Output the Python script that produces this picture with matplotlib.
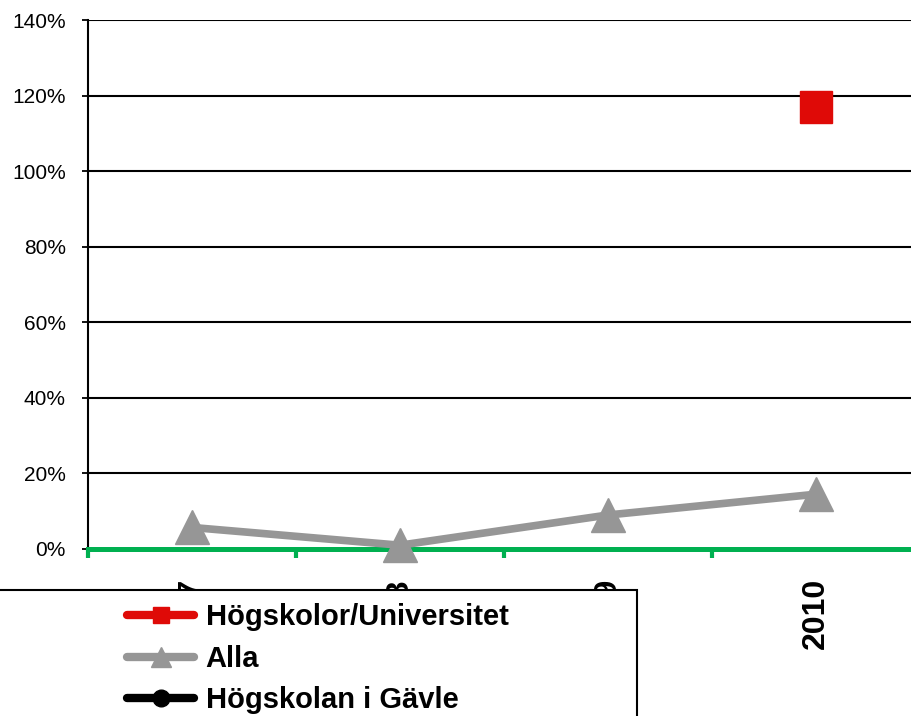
import numpy as np
import matplotlib
matplotlib.use("Agg")
import matplotlib.pyplot as plt
from matplotlib.lines import Line2D
from matplotlib.patches import Rectangle
from matplotlib.ticker import PercentFormatter

plt.rcParams['font.family'] = ['Liberation Sans', 'DejaVu Sans']

years = ['2007', '2008', '2009', '2010']
hogskolor = [np.nan, np.nan, np.nan, 1.17]
alla = [0.057, 0.01, 0.09, 0.145]
gavle = [np.nan, np.nan, np.nan, np.nan]
series_names = ['Högskolor/Universitet', 'Alla', 'Högskolan i Gävle']

RED = '#DF0A07'
GRAY = '#969696'
GREEN = '#00B050'

fig = plt.figure(figsize=(9.12, 7.16), dpi=100)
ax = fig.add_axes([88/912, 167/716, 832/912, 529/716])

x = np.arange(len(years))
ax.plot(x, gavle, color='black', lw=5.5, marker='o', markersize=14,
        zorder=3, clip_on=False)
ax.plot(x, alla, color=GRAY, lw=5.5, marker='^', markersize=24, zorder=4,
        clip_on=False)
ax.plot(x, hogskolor, color=RED, lw=5.5, marker='s', markersize=23,
        zorder=5, clip_on=False)

ax.set_xlim(-0.5, len(years) - 0.5)
ax.set_ylim(0, 1.4)
ax.set_yticks(np.arange(0, 1.41, 0.2))
ax.yaxis.set_major_formatter(PercentFormatter(1.0, decimals=0))
ax.grid(axis='y', color='black', lw=1.5)
ax.set_axisbelow(True)

ax.spines['top'].set_visible(False)
ax.spines['right'].set_visible(False)
ax.spines['left'].set_linewidth(1.5)
ax.spines['bottom'].set_color(GREEN)
ax.spines['bottom'].set_linewidth(3.6)
ax.spines['bottom'].set_zorder(3.5)

ax.tick_params(axis='y', direction='out', length=4, width=1.3, pad=12,
               labelsize=15, colors='black')
ax.set_xticks(np.arange(-0.5, len(years), 1.0))
ax.set_xticklabels([])
ax.set_xticks(x, minor=True)
ax.set_xticklabels(years, minor=True, rotation=90, fontsize=23,
                   fontweight='bold', va='top', ha='center')
ax.tick_params(axis='x', which='major', direction='out', length=6.5,
               width=3, color=GREEN)
ax.tick_params(axis='x', which='minor', length=0, pad=21)

# legend box (partly off-figure)
frame = Rectangle((-0.05, -0.2), 637/912 + 0.05, 0.2 + 126/716,
                  transform=fig.transFigure, facecolor='white',
                  edgecolor='black', lw=1.5, zorder=5)
fig.add_artist(frame)

handles = [
    Line2D([], [], color=RED, lw=6, marker='s', markersize=12,
           solid_capstyle='round'),
    Line2D([], [], color=GRAY, lw=6, marker='^', markersize=14,
           solid_capstyle='round'),
    Line2D([], [], color='black', lw=6, marker='o', markersize=12,
           solid_capstyle='round'),
]
leg = fig.legend(handles, series_names, loc='upper left',
                 bbox_to_anchor=(127/912, 113/716), frameon=False,
                 borderpad=0, borderaxespad=0, handlelength=2.3,
                 handletextpad=0.4, labelspacing=0.47,
                 prop={'weight': 'bold', 'size': 21})
leg.set_zorder(6)

fig.savefig('out.png', dpi=100)
